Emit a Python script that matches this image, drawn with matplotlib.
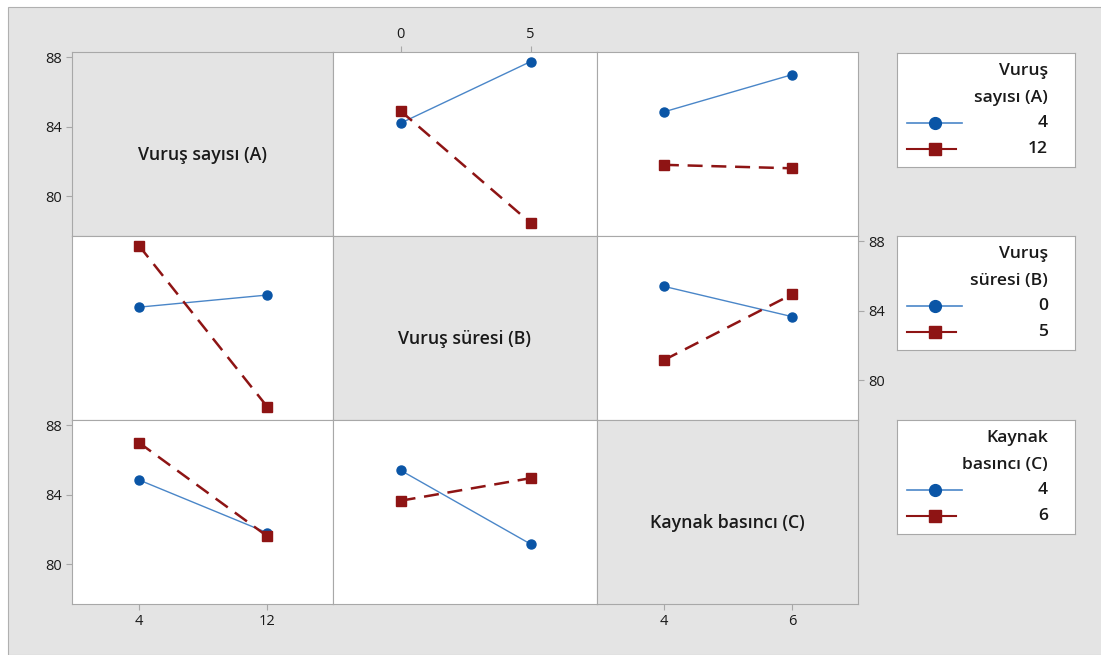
import numpy as np
import matplotlib.pyplot as plt
from matplotlib.lines import Line2D
from matplotlib.patches import Rectangle

plt.rcParams['font.family'] = ['Open Sans', 'DejaVu Sans']

# factor names and levels
factors = ['Vuruş sayısı (A)', 'Vuruş süresi (B)', 'Kaynak basıncı (C)']
legend_titles = ['Vuruş\nsayısı (A)', 'Vuruş\nsüresi (B)', 'Kaynak\nbasıncı (C)']
levels = [['4', '12'], ['0', '5'], ['4', '6']]

# interaction means (rows = first factor level, cols = second factor level)
ab = [[84.2, 87.75], [84.9, 78.45]]    # A=4,12  x  B=0,5
ac = [[84.85, 87.0], [81.8, 81.6]]     # A=4,12  x  C=4,6
bc = [[85.4, 83.65], [81.15, 84.95]]   # B=0,5   x  C=4,6

yticks = [80, 84, 88]

W, H = 1101, 655
BG = '#e4e4e4'
SPINE = '#a8a8a8'
BLUE_LINE = '#4a86c8'
BLUE = '#0a55a6'
RED = '#8e1414'
TXT = '#1a1a1a'

tables = {(0, 1): ab, (0, 2): ac, (1, 2): bc}


def panel_data(trace, xf):
    if (trace, xf) in tables:
        return np.array(tables[(trace, xf)])
    return np.array(tables[(xf, trace)]).T


fig = plt.figure(figsize=(W / 100, H / 100), dpi=100)
fig.patch.set_facecolor('white')
fig.patches.append(Rectangle((8 / W, 0), 1, 1 - 7 / H, transform=fig.transFigure,
                             facecolor=BG, edgecolor='#b0b0b0', linewidth=0.8, zorder=-10))

col_x = [72, 333, 597, 858]
row_y = [52, 236, 420, 604]


def px_axes(x0, y0, x1, y1):
    return fig.add_axes([x0 / W, 1 - y1 / H, (x1 - x0) / W, (y1 - y0) / H])


for r in range(3):
    for c in range(3):
        ax = px_axes(col_x[c], row_y[r], col_x[c + 1], row_y[r + 1])
        for s in ax.spines.values():
            s.set_color(SPINE)
            s.set_linewidth(0.8)
        ax.set_xlim(-0.52, 1.51)
        ax.set_ylim(77.7, 88.3)
        ax.tick_params(colors=SPINE, labelcolor=TXT, labelsize=10.5, length=4, width=0.8)
        ax.set_xticks([])
        ax.set_yticks([])
        if r == c:
            ax.set_facecolor(BG)
            ax.text(0.5, 0.5 - 11 / 184, factors[r], transform=ax.transAxes, ha='center', va='center',
                    fontsize=12.8, fontweight='semibold', color=TXT)
        else:
            ax.set_facecolor('white')
            d = panel_data(r, c)
            ax.plot([0, 1], d[0], color=BLUE_LINE, lw=1.0, marker='o', ms=6.5,
                    mfc=BLUE, mec=BLUE, zorder=3)
            ax.plot([0, 1], d[1], color=RED, lw=1.8, ls=(0, (6, 3.5)), marker='s', ms=7.5,
                    mfc=RED, mec=RED, zorder=3)
        # axis ticks as in the reference layout
        if c == 0 and r in (0, 2):
            ax.set_yticks(yticks)
        if r == 1 and c == 2:
            ax.yaxis.tick_right()
            ax.set_yticks(yticks)
        if r == 0 and c == 1:
            ax.xaxis.tick_top()
            ax.set_xticks([0, 1], levels[1])
        if r == 2 and c in (0, 2):
            ax.set_xticks([0, 1], levels[c])

# legends, one per trace factor
leg_boxes = [53, 236, 420]
for k in range(3):
    y0 = leg_boxes[k]
    lax = px_axes(897, y0, 1075, y0 + 114)
    lax.set_xlim(0, 178)
    lax.set_ylim(114, 0)
    lax.set_xticks([])
    lax.set_yticks([])
    lax.set_facecolor('white')
    for s in lax.spines.values():
        s.set_color(SPINE)
        s.set_linewidth(0.8)
    t1, t2 = legend_titles[k].split('\n')
    for yy, s in [(18, t1), (45, t2), (70, levels[k][0]), (96, levels[k][1])]:
        lax.text(151, yy, s, ha='right', va='center', fontsize=12.6,
                 fontweight='semibold', color=TXT)
    lax.add_line(Line2D([10, 65], [70, 70], color=BLUE_LINE, lw=1.2))
    lax.plot([38], [70], marker='o', ms=8.5, color=BLUE)
    lax.add_line(Line2D([10, 59], [96, 96], color=RED, lw=1.5))
    lax.plot([38], [96], marker='s', ms=8.5, color=RED)

fig.savefig('out.png', dpi=100, facecolor=fig.get_facecolor())
